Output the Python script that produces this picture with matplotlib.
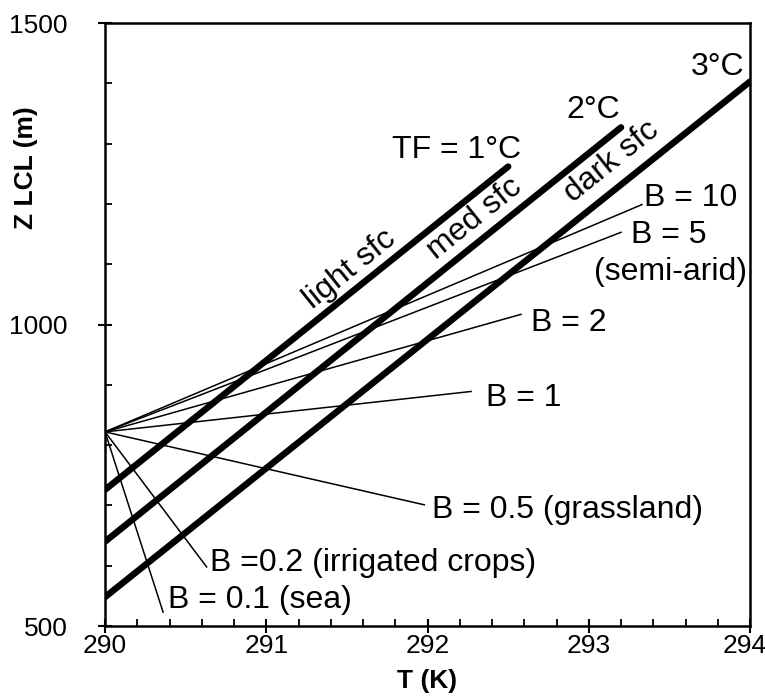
import numpy as np
import matplotlib
matplotlib.use("Agg")
import matplotlib.pyplot as plt
from matplotlib.ticker import MultipleLocator

plt.rcParams['font.family'] = ['Liberation Sans', 'DejaVu Sans']

# lignes epaisses : TF (1, 2, 3 degC)
tf_t0 = [290.0, 290.0, 290.0]
tf_t1 = [292.5, 293.2, 294.0]
tf_z0 = [726, 640, 548]
tf_z1 = [1262, 1327, 1403]
tf_labels = ["TF = 1°C", "2°C", "3°C"]
sfc_labels = ["light sfc", "med sfc", "dark sfc"]

# lignes fines : rapport de Bowen B
b_origin_t = 290.0
b_origin_z = 822
b_end_t = [293.33, 293.2, 292.58, 292.27, 291.98, 290.63, 290.36]
b_end_z = [1199, 1153, 1017, 889, 701, 598, 523]
b_labels = ["B = 10", "B = 5", "(semi-arid)", "B = 2", "B = 1",
            "B = 0.5 (grassland)", "B =0.2 (irrigated crops)", "B = 0.1 (sea)"]

xticks = [290, 291, 292, 293, 294]
xtick_labels = ["290", "291", "292", "293", "294"]
yticks = [500, 1000, 1500]
ytick_labels = ["500", "1000", "1500"]

fig = plt.figure(figsize=(7.65, 7.0), dpi=100)
ax = fig.add_axes([0.1373, 0.1057, 0.8431, 0.8613])

for i in range(len(b_end_t)):
    ax.plot([b_origin_t, b_end_t[i]], [b_origin_z, b_end_z[i]], color='black', lw=1.1)

for i in range(3):
    ax.plot([tf_t0[i], tf_t1[i]], [tf_z0[i], tf_z1[i]], color='black', lw=4.7,
            solid_capstyle='round')

fs = 23
# etiquettes TF
ax.text(292.18, 1289, tf_labels[0], fontsize=fs, ha='center', va='center')
ax.text(293.03, 1356, tf_labels[1], fontsize=fs, ha='center', va='center')
ax.text(293.8, 1427, tf_labels[2], fontsize=fs, ha='center', va='center')

ang = 38.8
sfc_t = [291.52, 292.29, 293.14]
sfc_z = [1092, 1175, 1270]
for i in range(3):
    ax.text(sfc_t[i], sfc_z[i], sfc_labels[i], fontsize=fs, rotation=ang,
            ha='center', va='center', rotation_mode='anchor')

# etiquettes B
b_lab_t = [293.34, 293.26, 293.03, 292.64, 292.36, 292.03, 290.65, 290.39]
b_lab_z = [1210, 1148, 1087, 1002, 878, 692, 604, 543]
for i in range(len(b_labels)):
    ax.text(b_lab_t[i], b_lab_z[i], b_labels[i], fontsize=fs, ha='left', va='center')

ax.set_xlim(290, 294)
ax.set_ylim(500, 1500)
# le dernier label (294) est pose a part pour rester dans l'image
ax.set_xticks(xticks, xtick_labels[:-1] + [""])
ax.set_yticks(yticks, ytick_labels)
ax.xaxis.set_minor_locator(MultipleLocator(0.2))
ax.yaxis.set_minor_locator(MultipleLocator(100))
ax.tick_params(which='major', direction='inout', length=10, width=1.5, labelsize=19)
ax.tick_params(which='minor', direction='in', length=5, width=1.3)
ax.tick_params(axis='x', pad=1)
ax.tick_params(axis='y', pad=22)
for s in ax.spines.values():
    s.set_linewidth(1.8)

ax.annotate(xtick_labels[-1], xy=(294, 500), xycoords='data', xytext=(-4, -6),
            textcoords='offset points', ha='center', va='top', fontsize=19,
            annotation_clip=False)

ax.set_xlabel("T (K)", fontsize=19, fontweight='bold', labelpad=8)
ax.set_ylabel("Z LCL (m)", fontsize=19, fontweight='bold')
ax.yaxis.set_label_coords(-0.104, 0.76)

fig.savefig("out.png", dpi=100)
